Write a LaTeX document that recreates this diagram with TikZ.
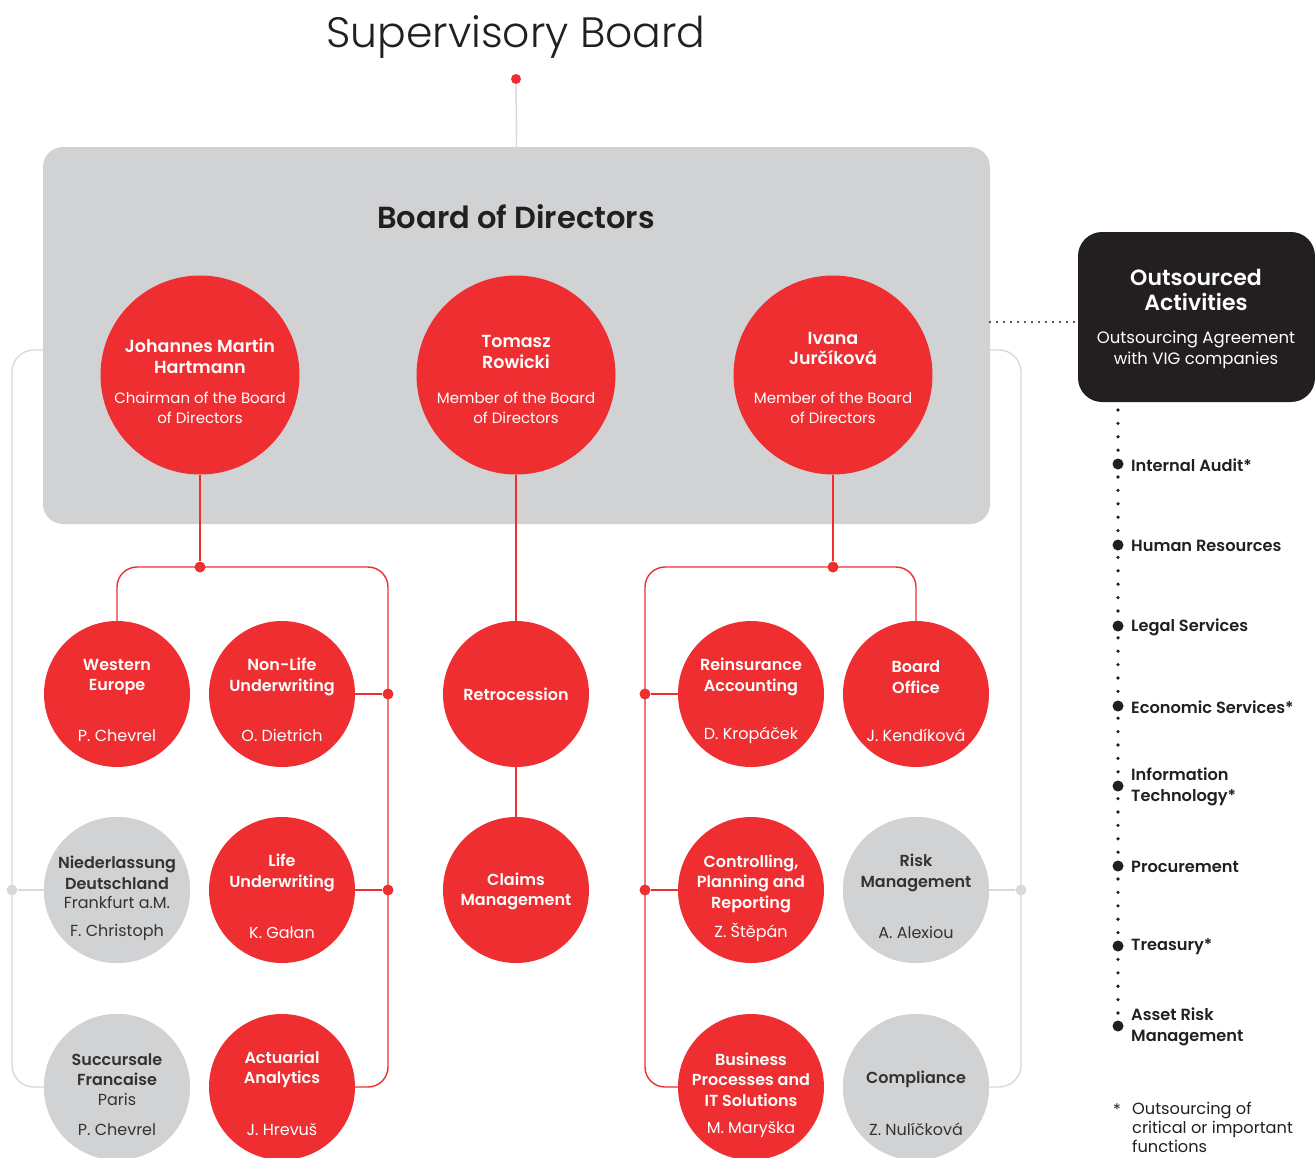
\documentclass[tikz,border=0pt]{standalone}
\usepackage{fontspec}
\setmainfont{Poppins}[BoldFont={Poppins SemiBold}]
\newfontfamily\poplight{Poppins Light}
\usetikzlibrary{calc}
\definecolor{vred}{HTML}{EE2E31}
\definecolor{vgray}{HTML}{D1D2D4}
\definecolor{lgray}{HTML}{D9D9DA}
\definecolor{vdark}{HTML}{231F20}
\definecolor{gtext}{HTML}{333333}
\begin{document}
\begin{tikzpicture}[x=1pt,y=-1pt,
  redc/.style={circle, fill=vred, minimum size=146pt, inner sep=0pt},
  grayc/.style={circle, fill=vgray, minimum size=146pt, inner sep=0pt},
  bigc/.style={circle, fill=vred, minimum size=199pt, inner sep=0pt},
  ttl/.style={text=white, font=\bfseries\fontsize{16}{20.5}\selectfont, align=center, inner sep=0pt},
  sub/.style={text=white, font=\fontsize{16}{20}\selectfont, align=center, inner sep=0pt},
  gttl/.style={ttl, text=gtext},
  gsub/.style={sub, text=gtext},
  bttl/.style={text=white, font=\bfseries\fontsize{17.5}{20.5}\selectfont, align=center, inner sep=0pt},
  bsub/.style={text=white, font=\fontsize{15}{19.5}\selectfont, align=center, inner sep=0pt},
  redline/.style={draw=vred, line width=1.4pt},
  grayline/.style={draw=lgray, line width=1.4pt},
  rdot/.style={circle, fill=vred, minimum size=11pt, inner sep=0pt},
  gdot/.style={circle, fill=lgray, minimum size=11pt, inner sep=0pt},
  kdot/.style={circle, fill=vdark, minimum size=11pt, inner sep=0pt},
  item/.style={anchor=west, text=vdark, font=\bfseries\fontsize{16.2}{21}\selectfont, align=left, inner sep=0pt}
]
\useasboundingbox (0,0) rectangle (1315,1157);

% coordinates
\coordinate (glx) at (12,0);
\coordinate (grx) at (1021,0);
\coordinate (lrx) at (388,0);
\coordinate (rlx) at (645,0);
\coordinate (gl1) at (43,350);
\coordinate (gr1) at (990,350);

% gray outer lines (behind the board box)
\node[grayc] (succ) at (117,1087) {};
\node[grayc] (comp) at (916,1087) {};
\node[grayc] (nied) at (117,890) {};
\node[grayc] (risk) at (916,890) {};
\draw[grayline, rounded corners=22pt] (gl1) -| (glx |- succ.west) -- (succ.west);
\draw[grayline, rounded corners=22pt] (gr1) -| (grx |- comp.east) -- (comp.east);
\node[gdot] (gdl) at (glx |- nied.west) {};
\node[gdot] (gdr) at (grx |- risk.east) {};
\draw[grayline] (gdl) -- (nied.west);
\draw[grayline] (gdr) -- (risk.east);
\node[grayc] at (succ) {};
\node[grayc] at (comp) {};
\node[grayc] at (nied) {};
\node[grayc] at (risk) {};

% title
\node[text=vdark, font=\poplight\fontsize{42.5}{50}\selectfont, inner sep=0pt] (sup) at (516,37) {Supervisory Board};
\node[rdot, minimum size=10pt] (supdot) at (516,79) {};

% board box
\node[fill=vgray, rounded corners=20pt, minimum width=947pt, minimum height=377pt, inner sep=0pt] (bod) at (516.5,335.5) {};
\draw[grayline] (supdot) -- (bod.north);
\node[text=vdark, font=\bfseries\fontsize{30.5}{34}\selectfont, inner sep=0pt] (bodt) at (516,217) {Board of Directors};

% big circles
\node[bigc] (jmh) at (200,375) {};
\node[bigc] (tr) at (516,375) {};
\node[bigc] (ij) at (833,375) {};
\node[bttl] (jmht) at ($(jmh)+(0,-19)$) {Johannes Martin\\Hartmann};
\node[bsub] (jmhs) at ($(jmh)+(0,33)$) {Chairman of the Board\\of Directors};
\node[bttl] (trt) at ($(tr)+(0,-23)$) {Tomasz\\Rowicki};
\node[bsub] (trs) at ($(tr)+(0,33)$) {Member of the Board\\of Directors};
\node[bttl] (ijt) at ($(ij)+(0,-26.5)$) {Ivana\\Jurčíková};
\node[bsub] (ijs) at ($(ij)+(0,33)$) {Member of the Board\\of Directors};

% small circles
\node[redc] (weu) at (117,694) {};
\node[redc] (nl) at (282,694) {};
\node[redc] (retro) at (516,694) {};
\node[redc] (ra) at (751,694) {};
\node[redc] (bo) at (916,694) {};
\node[redc] (life) at (282,890) {};
\node[redc] (claims) at (516,890) {};
\node[redc] (cpr) at (751,890) {};
\node[redc] (act) at (282,1087) {};
\node[redc] (bp) at (751,1087) {};

% left red tree
\node[rdot] (ldot) at (200,567) {};
\draw[redline] (jmh.south) -- (ldot);
\draw[redline, rounded corners=20pt] (weu.north) |- (ldot.center) -| (lrx |- act.east) -- (act.east);
\node[rdot] (ld1) at (lrx |- nl.east) {};
\node[rdot] (ld2) at (lrx |- life.east) {};
\draw[redline] (ld1) -- (nl.east);
\draw[redline] (ld2) -- (life.east);

% center red
\draw[redline] (tr.south) -- (retro.north);
\draw[redline] (retro.south) -- (claims.north);

% right red tree
\node[rdot] (rdt) at (833,567) {};
\draw[redline] (ij.south) -- (rdt);
\draw[redline, rounded corners=20pt] (bo.north) |- (rdt.center) -| (rlx |- bp.west) -- (bp.west);
\node[rdot] (rd1) at (rlx |- ra.west) {};
\node[rdot] (rd2) at (rlx |- cpr.west) {};
\draw[redline] (rd1) -- (ra.west);
\draw[redline] (rd2) -- (cpr.west);

% texts in small circles
\node[ttl] (weut) at ($(weu)+(0,-17)$) {Western\\Europe};
\node[sub] (weus) at ($(weu)+(0,41.5)$) {P. Chevrel};
\node[ttl] (nlt) at ($(nl)+(0,-17)$) {Non-Life\\Underwriting};
\node[sub] (nls) at ($(nl)+(0,41.5)$) {O. Dietrich};
\node[ttl] (retrot) at (retro) {Retrocession};
\node[ttl] (rat) at ($(ra)+(0,-17)$) {Reinsurance\\Accounting};
\node[sub] (ras) at ($(ra)+(0,41.5)$) {D. Kropáček};
\node[ttl] (bot) at ($(bo)+(0,-17)$) {Board\\Office};
\node[sub] (bos) at ($(bo)+(0,41.5)$) {J. Kendíková};

\node[gttl] (niedt) at ($(nied)+(0,-17)$) {Niederlassung\\Deutschland};
\node[gsub] (nieds) at ($(nied)+(0,12.5)$) {Frankfurt a.M.};
\node[gsub] (niedn) at ($(nied)+(0,42.5)$) {F. Christoph};
\node[ttl] (lifet) at ($(life)+(0,-17)$) {Life\\Underwriting};
\node[sub] (lifes) at ($(life)+(0,42.5)$) {K. Gałan};
\node[ttl] (claimst) at ($(claims)+(0,1.5)$) {Claims\\Management};
\node[ttl] (cprt) at ($(cpr)+(0,-6.5)$) {Controlling,\\Planning and\\Reporting};
\node[sub] (cprs) at ($(cpr)+(0,42.5)$) {Z. Štěpán};
\node[gttl] (riskt) at ($(risk)+(0,-17)$) {Risk\\Management};
\node[gsub] (risks) at ($(risk)+(0,42.5)$) {A. Alexiou};

\node[gttl] (succt) at ($(succ)+(0,-17.5)$) {Succursale\\Francaise};
\node[gsub] (succs) at ($(succ)+(0,12.5)$) {Paris};
\node[gsub] (succn) at ($(succ)+(0,42.5)$) {P. Chevrel};
\node[ttl] (actt) at ($(act)+(0,-17.5)$) {Actuarial\\Analytics};
\node[sub] (acts) at ($(act)+(0,42.5)$) {J. Hrevuš};
\node[ttl] (bpt) at ($(bp)+(0,-7.5)$) {Business\\Processes and\\IT Solutions};
\node[sub] (bps) at ($(bp)+(0,42.5)$) {M. Maryška};
\node[gttl] (compt) at ($(comp)+(0,-8)$) {Compliance};
\node[gsub] (comps) at ($(comp)+(0,42.5)$) {Z. Nulíčková};

% outsourced
\node[fill=vdark, rounded corners=24pt, minimum width=237pt, minimum height=170pt, inner sep=0pt] (out) at (1196.5,317) {};
\node[text=white, font=\bfseries\fontsize{22}{24.5}\selectfont, align=center, inner sep=0pt] (outt) at (1196,290) {Outsourced\\Activities};
\node[text=white, font=\fontsize{16.5}{21}\selectfont, align=center, inner sep=0pt] (outs) at (1196,350) {Outsourcing Agreement\\with VIG companies};
\coordinate (dl) at (990,322);
\draw[vdark, line width=2.2pt, line cap=round, dash pattern=on 0pt off 7pt] (dl) -- (out.west |- dl);

% list
\coordinate (vtop) at (1118,410);
\node[kdot] (i1) at (1118,464) {};
\node[kdot] (i2) at (1118,545) {};
\node[kdot] (i3) at (1118,626) {};
\node[kdot] (i4) at (1118,706) {};
\node[kdot] (i5) at (1118,786) {};
\node[kdot] (i6) at (1118,866) {};
\node[kdot] (i7) at (1118,946) {};
\node[kdot] (i8) at (1118,1026) {};
\draw[vdark, line width=3.6pt, line cap=round, dash pattern=on 0pt off 13.4pt] (vtop) -- (i8.center);
\node[item] (l1) at (1131,465) {Internal Audit*};
\node[item] (l2) at (1131,546) {Human Resources};
\node[item] (l3) at (1131,627) {Legal Services};
\node[item] (l4) at (1131,707) {Economic Services*};
\node[item] (l5) at (1131,786.5) {Information\\Technology*};
\node[item] (l6) at (1131,867) {Procurement};
\node[item] (l7) at (1131,947) {Treasury*};
\node[item] (l8) at (1131,1027) {Asset Risk\\Management};

\node[text=vdark, font=\fontsize{16}{19}\selectfont, inner sep=0pt] (star) at (1117,1110) {*};
\node[text=vdark, font=\fontsize{16.2}{19}\selectfont, align=left, anchor=north west, inner sep=0pt] (foot) at (1132,1102) {Outsourcing of\\critical or important\\functions};
\end{tikzpicture}
\end{document}
